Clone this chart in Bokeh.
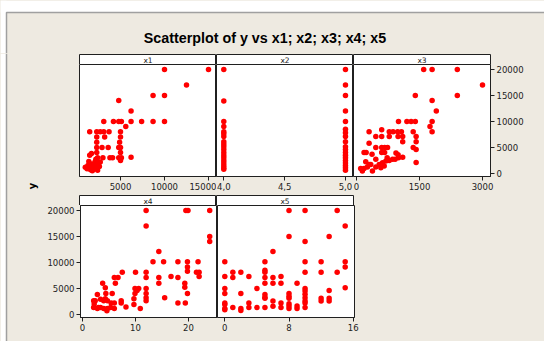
from bokeh.plotting import figure
from bokeh.layouts import column, row
from bokeh.models import Range1d, FixedTicker, Label, GlobalInlineStyleSheet
from bokeh.embed import file_html
from bokeh.resources import INLINE

# ---------------- data ----------------
TITLE = "Scatterplot of y vs x1; x2; x3; x4; x5"
Y_LABEL = "y"
PANEL_NAMES = ["x1", "x2", "x3", "x4", "x5"]
Y_TICKS = [0, 5000, 10000, 15000, 20000]

x1_x = [10000, 15000, 12500, 8700, 10000, 4800, 6200,
        3100, 4200, 4800, 5100, 6200, 7400, 8700, 10000,
        5600,
        1500, 2300, 2700, 3100, 3700, 5000,
        2300, 3200, 5000,
        2300, 4900,
        2300, 2900, 3600, 4800, 5000,
        2300, 5000,
        1700, 1500, 3800, 4100, 4800, 5100, 6200, 5000, 2400, 3000,
        1000, 1200, 1300, 1500, 1600, 1700, 1900, 2000, 2100, 2200,
        2300, 2400, 2500, 2600, 1400, 1800, 2200, 2700]
x1_y = [20000, 20000, 17000, 15000, 15000, 14000, 12000,
        10000, 10000, 10000, 10000, 10000, 10000, 10000, 10000,
        9000,
        8000, 8000, 8000, 8000, 8000, 8000,
        7000, 7000, 7000,
        6000, 6000,
        5000, 5000, 5000, 5000, 5000,
        4000, 4000,
        3800, 3500, 3000, 3000, 3000, 3000, 3100, 2500, 3000, 3000,
        1200, 900, 1500, 1100, 700, 1800, 1300, 900, 2200, 1500,
        1100, 600, 1900, 1300, 2300, 500, 2700, 2200]

x2_x = [4.0] * 19 + [5.0] * 19
x2_y = [20000, 13900, 10000, 9000, 8000, 7600, 7100, 6100, 5600, 5100,
        4600, 4000, 3500, 3000, 2500, 2000, 1500, 1100, 800,
        20000, 17000, 15000, 12000, 10000, 8500, 7800, 7100, 6100, 5100,
        4600, 4000, 3500, 3000, 2500, 2000, 1500, 1100, 600]

x3_x = [1600, 1800, 2400, 3000, 1400, 2400, 1800, 1900,
        1000, 1200, 1300, 1400, 1800, 1750, 1800,
        600, 300, 780, 870, 980, 1070, 1350,
        460, 600, 780, 990, 1100, 1420,
        300, 1100, 1420,
        460, 600, 670, 740, 1350, 1420,
        180, 230, 370, 600, 670, 940, 990, 1100,
        460, 730, 860, 920, 1000, 1420,
        100, 180, 260, 340, 380, 460, 540, 620, 700, 780, 140, 220, 300, 580, 660]
x3_y = [20000, 20000, 20000, 17000, 15000, 15000, 14000, 12000,
        10000, 10000, 10000, 10000, 10000, 9000, 8000,
        8400, 8000, 8000, 8000, 8000, 8000, 8000,
        7100, 7100, 7100, 7100, 7100, 7100,
        5800, 6100, 6100,
        5000, 5000, 5000, 5000, 5000, 4600,
        4000, 4000, 3700, 4000, 4000, 3900, 3600, 3100,
        2700, 3000, 2700, 2700, 3000, 2100,
        960, 960, 1220, 1730, 450, 1220, 1730, 2050, 2370, 2500, 450, 2240, 1730, 1090, 1410]

x4_x = [12, 19.5, 19.9, 24, 12, 24, 24, 14.4,
        13.3, 15.3, 18, 19.8, 21.8, 19.8, 19.8,
        7.5, 10, 12, 21.5, 22,
        6, 6.7, 12, 14.4, 16.7, 18, 22,
        14.4, 6.2, 3.8, 19.3, 19.3, 19.8,
        4.3, 9.9, 10.6, 10.3, 12, 12, 12, 12,
        9.9, 9.7, 2.8, 4.4, 5.6, 4.3, 15.5,
        2.1, 2.4, 3.4, 4.0, 4.7, 5.4, 6.0, 7.3, 7.3,
        9.7, 8.2, 10.9, 18, 19.4,
        2.1, 2.8, 3.4, 4.0, 4.7, 5.3, 6.0, 4.6, 2.2, 3.0]
x4_y = [20000, 20000, 20000, 20000, 17000, 15000, 14000, 12100,
        10100, 10100, 10100, 10100, 10100, 9100, 8300,
        8100, 8100, 8100, 8100, 8100,
        7100, 7100, 7100, 7100, 7300, 7100, 7300,
        6000, 6000, 6000, 6000, 5200, 4000,
        5100, 5000, 5000, 4600, 5000, 4000, 3200, 2600,
        4000, 3000, 3800, 4000, 4000, 3000, 3200,
        2600, 2600, 2900, 2600, 2600, 2200, 2200, 2200, 2600,
        1900, 1400, 1150, 2200, 2200,
        1300, 1150, 1300, 1150, 1150, 1300, 1150, 700, 2000, 1300]

x5_x = [8, 10, 14, 15, 8, 13, 10, 6,
        0, 5, 10, 12, 15, 15,
        0, 1, 1, 2, 3, 5, 5, 5, 6, 7,
        5, 6, 7, 9, 10, 12, 14, 15,
        0, 0, 2, 4, 5, 5, 5,
        10, 10, 10, 10, 10, 10, 10,
        8, 8, 8, 8, 8, 8,
        9, 9, 12, 12, 13, 13, 13,
        0, 0, 0, 0, 1, 2, 2, 3, 3, 4, 5, 6, 6, 7, 7]
x5_y = [20000, 20000, 20000, 17000, 15000, 15000, 14000, 12100,
        10100, 10100, 10100, 10100, 10100, 9100,
        7300, 8100, 7100, 8100, 7300, 8500, 8100, 7100, 7100, 7300,
        6000, 6000, 6000, 6000, 8100, 8100, 8100, 5100,
        5000, 4000, 4000, 5000, 3800, 3300, 3100,
        5000, 4500, 3850, 3200, 2560, 2200, 1300,
        4000, 3500, 3100, 2050, 1600, 1150,
        1600, 1150, 3100, 2560, 4600, 3100, 2560,
        2200, 1900, 1150, 900, 1300, 1150, 770, 2200, 1300, 1300, 1300, 2560, 1540, 2200, 1300]

x1_ticks = [5000, 10000, 15000]
x2_ticks = [4.0, 4.5, 5.0]
x2_labels = {4.0: "4,0", 4.5: "4,5", 5.0: "5,0"}
x3_ticks = [0, 1500, 3000]
x4_ticks = [0, 10, 20]
x5_ticks = [0, 8, 16]

# ---------------- styling ----------------
BG = "#EEEAE1"
FRAME = "#A0A0A0"
RED = "#FF0000"
FONT = "DejaVu Sans"
FW, FH = 137, 112
Y_RANGE = (-600, 20940)
TOTAL_W = 544


def base_fig(fw, fh, xr, yr, left=0, right=0, top=0, bottom=0, yloc=None, xloc=None):
    p = figure(frame_width=fw, frame_height=fh,
               x_range=Range1d(*xr), y_range=Range1d(*yr),
               x_axis_location=xloc, y_axis_location=yloc,
               output_backend="svg", toolbar_location=None,
               min_border_left=left, min_border_right=right,
               min_border_top=top, min_border_bottom=bottom)
    p.grid.visible = False
    p.border_fill_color = BG
    p.background_fill_color = "white"
    p.outline_line_color = "#202020"
    p.outline_line_width = 1
    return p


def style_axis(ax, ticks, overrides=None):
    ax.ticker = FixedTicker(ticks=ticks)
    ax.major_tick_out = 4
    ax.major_tick_in = 0
    ax.minor_tick_out = 0
    ax.minor_tick_in = 0
    ax.axis_line_color = "#202020"
    ax.major_tick_line_color = "#202020"
    ax.major_label_text_font = FONT
    ax.major_label_text_font_size = "8.5px"
    ax.major_label_text_color = "#222222"
    ax.major_label_standoff = 2
    if overrides:
        ax.major_label_overrides = overrides


def panel(xs, ys, xr, xticks, left=0, right=0, bottom=18, yloc=None, overrides=None):
    p = base_fig(FW, FH, xr, Y_RANGE, left=left, right=right, bottom=bottom,
                 yloc=yloc, xloc="below")
    p.scatter(xs, ys, size=5.5, color=RED, line_color=None)
    style_axis(p.xaxis[0], xticks, overrides)
    if yloc is not None:
        style_axis(p.yaxis[0], Y_TICKS)
    return p


def header(txt, left=0, right=0):
    h = base_fig(FW, 11, (0, 1), (0, 1), left=left, right=right)
    h.add_layout(Label(x=0.5, y=0.5, text=txt, text_align="center",
                       text_baseline="middle", text_font=FONT,
                       text_font_size="7.5px", text_color="#222222"))
    return h


# title strip (pixel-unit ranges, y downwards)
tfig = base_fig(TOTAL_W, 53, (0, TOTAL_W), (53, 0))
tfig.outline_line_color = None
tfig.background_fill_color = BG
tfig.quad(left=0, right=TOTAL_W, top=0, bottom=12, fill_color="white", line_color=None)
tfig.quad(left=0, right=6, top=0, bottom=53, fill_color="white", line_color=None)
tfig.line([6, 6, TOTAL_W], [53, 12, 12], line_color=FRAME, line_width=1.5)
tfig.add_layout(Label(x=264.5, y=37.5, text=TITLE, text_align="center",
                      text_baseline="alphabetic", text_font="Liberation Sans",
                      text_font_style="bold", text_font_size="14.3px",
                      text_color="black"))

# left strip with y label
lfig = base_fig(44, 288, (0, 44), (288, 0))
lfig.outline_line_color = None
lfig.background_fill_color = BG
lfig.quad(left=0, right=6, top=0, bottom=288, fill_color="white", line_color=None)
lfig.line([6, 6], [0, 288], line_color=FRAME, line_width=1.5)
lfig.add_layout(Label(x=32, y=132.5, text=Y_LABEL, angle=1.5708,
                      text_align="center", text_baseline="middle",
                      text_font=FONT, text_font_style="bold",
                      text_font_size="10px", text_color="black"))

# row 1
h1 = header(PANEL_NAMES[0], left=35)
h2 = header(PANEL_NAMES[1])
h3 = header(PANEL_NAMES[2], right=54)
p1 = panel(x1_x, x1_y, (341, 15909), x1_ticks, left=35)
p2 = panel(x2_x, x2_y, (3.940, 5.066), x2_ticks, overrides=x2_labels)
p3 = panel(x3_x, x3_y, (-71, 3190), x3_ticks, right=54, yloc="right")

# row 2
h4 = header(PANEL_NAMES[3], left=35)
h5 = header(PANEL_NAMES[4], right=191)
p4 = panel(x4_x, x4_y, (-0.38, 25.47), x4_ticks, left=35, bottom=24, yloc="left")
p5 = panel(x5_x, x5_y, (-0.91, 16.16), x5_ticks, right=191, bottom=24)

block = column(row(h1, h2, h3), row(p1, p2, p3), row(h4, h5), row(p4, p5))
layout = column(tfig, row(lfig, block))
layout.stylesheets = [GlobalInlineStyleSheet(css="html, body { background-color: #EEEAE1; }")]

open("out.html", "w").write(file_html(layout, INLINE))
